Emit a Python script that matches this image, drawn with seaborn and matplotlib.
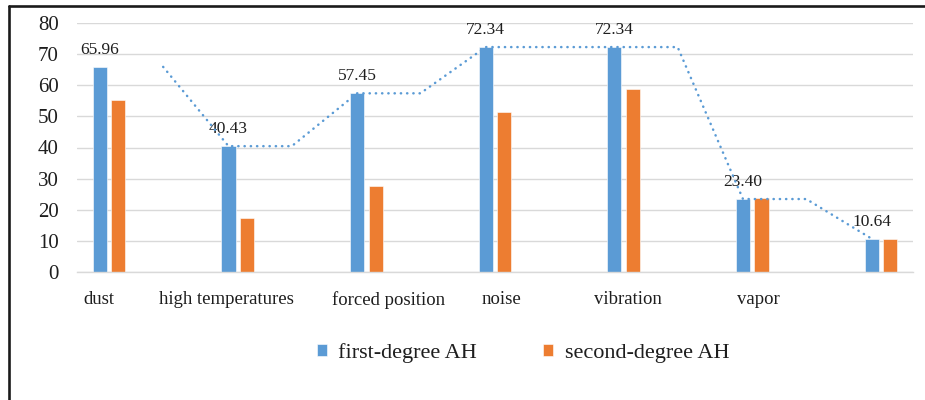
import numpy as np
import pandas as pd
import matplotlib
matplotlib.use("Agg")
import matplotlib.pyplot as plt
from matplotlib.lines import Line2D
import seaborn as sns

# ---------------- data ----------------
categories = ["dust", "high temperatures", "forced position", "noise",
              "vibration", "vapor", ""]
first_degree = [65.96, 40.43, 57.45, 72.34, 72.34, 23.40, 10.64]
second_degree = [55.3, 17.4, 27.7, 51.5, 58.7, 23.8, 10.4]
series_names = ["first-degree AH", "second-degree AH"]
y_ticks = [0, 10, 20, 30, 40, 50, 60, 70, 80]

# ---------------- style / layout ----------------
BLUE = "#5B9BD5"
ORANGE = "#ED7D31"
GRID = "#d9d9d9"
TEXT = "#1e1e1e"
label_shift = [-0.08, -0.09, 0.17, 0.05, 0.03, 0.05, 0.0]

sns.set_theme(style="white")
plt.rcParams["font.family"] = ["Liberation Serif", "DejaVu Serif"]

df = pd.DataFrame({
    "category": categories * 2,
    "series": [series_names[0]] * len(categories) + [series_names[1]] * len(categories),
    "value": first_degree + second_degree,
})
df["cat_id"] = pd.Categorical([f"c{i}" for i in range(len(categories))] * 2)

fig = plt.figure(figsize=(9.25, 4.0), dpi=100)
ax = fig.add_axes([77 / 925, 1 - 271.7 / 400, (913 - 77) / 925, (271.7 - 23.3) / 400])

sns.barplot(data=df, x="cat_id", y="value", hue="series",
            hue_order=series_names, palette=[BLUE, ORANGE],
            width=0.288, gap=0.236, dodge=True, errorbar=None,
            saturation=1, edgecolor="white", linewidth=0.4, ax=ax, zorder=2)

n = len(categories)
ax.set_xlim(-0.25, n - 0.75)
ax.set_ylim(0, 80)
ax.set_yticks(y_ticks)
ax.set_yticklabels([str(t) for t in y_ticks], fontsize=15, color=TEXT)
ax.tick_params(axis="y", length=0, pad=13)

ax.set_xticks(np.arange(n) + np.array(label_shift))
ax.set_xticklabels(categories, fontsize=13.5, color=TEXT)
ax.tick_params(axis="x", length=0, pad=14)
ax.set_xlabel("")
ax.set_ylabel("")

ax.yaxis.grid(True, color=GRID, linewidth=1.0, zorder=0)
ax.xaxis.grid(False)
ax.set_axisbelow(True)
for s in ["top", "right", "left"]:
    ax.spines[s].set_visible(False)
ax.spines["bottom"].set_color(GRID)
ax.spines["bottom"].set_linewidth(1.0)

# data labels on first-degree bars
ax.bar_label(ax.containers[0], labels=[f"{v:.2f}" for v in first_degree],
             padding=6.5, fontsize=12.5, color=TEXT)

# dotted stepped trend line through first-degree values
xs, ys = [], []
for i, v in enumerate(first_degree):
    if i > 0:
        xs.append(i - 0.072)
        ys.append(v)
    if i < n - 1:
        xs.append(i + 0.42)
        ys.append(v)
ax.plot(xs, ys, color=BLUE, linewidth=1.8, linestyle=(0, (0.1, 2.4)),
        dash_capstyle="round", zorder=3)

# legend
handles, labels = ax.get_legend_handles_labels()
if ax.get_legend() is not None:
    ax.get_legend().remove()
fig.legend(handles, labels, loc="center", bbox_to_anchor=(523 / 925, 1 - 353 / 400),
           ncol=2, frameon=False, fontsize=16, handlelength=0.45, handleheight=0.45,
           handletextpad=0.5, columnspacing=3.0, labelcolor=TEXT)

# outer frame (top and left edges)
fig.add_artist(Line2D([8.5 / 925, 1], [1 - 5.5 / 400, 1 - 5.5 / 400],
                      transform=fig.transFigure, color="#1a1a1a", linewidth=1.9))
fig.add_artist(Line2D([8.5 / 925, 8.5 / 925], [0, 1 - 5.5 / 400],
                      transform=fig.transFigure, color="#1a1a1a", linewidth=1.9))

fig.savefig("out.png", dpi=100)
